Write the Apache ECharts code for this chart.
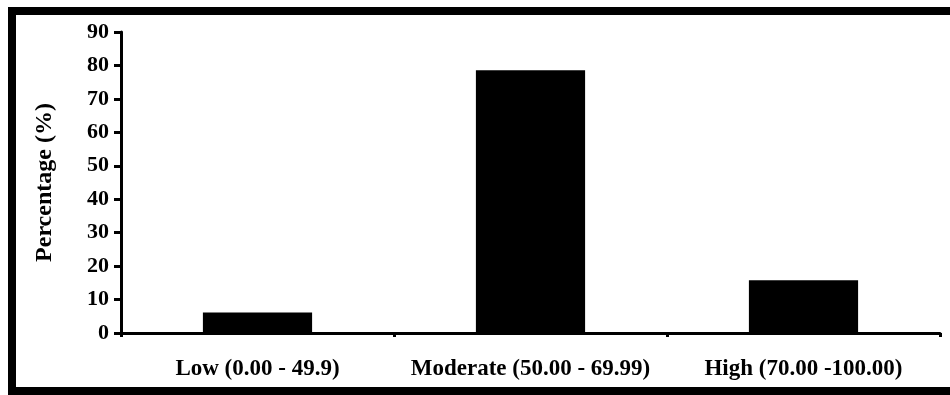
<!DOCTYPE html>
<html>
<head>
<meta charset="utf-8">
<script src="https://cdn.jsdelivr.net/npm/echarts@6/dist/echarts.min.js"></script>
<style>
  html, body { margin: 0; padding: 0; background: #fff; }
  #chart { width: 950px; height: 395px; }
</style>
</head>
<body>
<div id="chart"></div>
<script>
// percentage by score class
const categories = ['Low (0.00 - 49.9)', 'Moderate (50.00 - 69.99)', 'High (70.00 -100.00)'];
const percentages = [6.1, 78.6, 15.8];
const yTicks = [0, 10, 20, 30, 40, 50, 60, 70, 80, 90];

const chart = echarts.init(document.getElementById('chart'));
const serif = '"Liberation Serif", "Times New Roman", serif';

const option = {
  animation: false,
  backgroundColor: '#fff',
  textStyle: { fontFamily: serif },
  grid: {
    left: 121,
    right: 10,
    top: 32,
    bottom: 62
  },
  graphic: [
    {
      type: 'rect',
      shape: { x: 12, y: 11, width: 960, height: 380 },
      style: { fill: 'none', stroke: '#000', lineWidth: 8 },
      silent: true
    }
  ],
  xAxis: {
    type: 'category',
    data: categories,
    axisLine: { lineStyle: { color: '#000', width: 3 } },
    axisTick: { show: true, interval: 0, length: 4, lineStyle: { color: '#000', width: 3 } },
    axisLabel: {
      interval: 0,
      hideOverlap: false,
      color: '#000',
      fontFamily: serif,
      fontWeight: 'bold',
      fontSize: 23,
      margin: 25
    }
  },
  yAxis: {
    type: 'value',
    min: yTicks[0],
    max: yTicks[yTicks.length - 1],
    interval: 10,
    name: 'Percentage (%)',
    nameLocation: 'middle',
    nameGap: 64,
    nameTextStyle: {
      color: '#000',
      fontFamily: serif,
      fontWeight: 'bold',
      fontSize: 24
    },
    axisLine: { show: true, lineStyle: { color: '#000', width: 3 } },
    axisTick: { show: true, length: 7, lineStyle: { color: '#000', width: 3 } },
    axisLabel: {
      color: '#000',
      fontFamily: serif,
      fontWeight: 'bold',
      fontSize: 22,
      margin: 12
    },
    splitLine: { show: false }
  },
  series: [
    {
      type: 'bar',
      data: percentages,
      barWidth: '40%',
      itemStyle: { color: '#000' },
      silent: true
    }
  ]
};
chart.setOption(option);
</script>
</body>
</html>
